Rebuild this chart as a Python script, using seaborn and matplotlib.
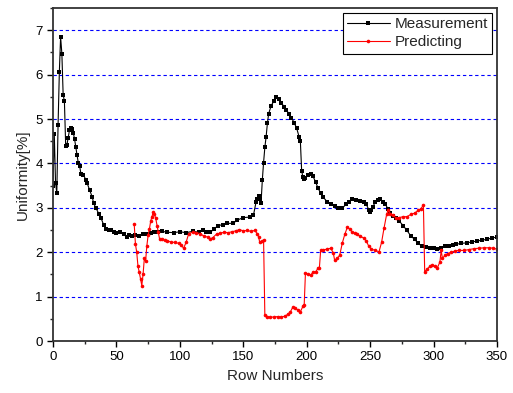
import numpy as np
import pandas as pd
import matplotlib
matplotlib.use('Agg')
import matplotlib.pyplot as plt
import seaborn as sns
from matplotlib.ticker import MultipleLocator

# measured uniformity per row
meas_x = [0, 1, 2, 3, 4, 5, 6, 7, 8, 9,
          10, 11, 12, 13, 14, 15, 16, 17, 18, 19,
          20, 21, 22, 24, 26, 27, 29, 31, 32, 34,
          36, 38, 40, 42, 44, 46, 48, 50, 53, 56,
          58, 60, 62, 65, 68, 71, 74, 77, 80, 83,
          86, 90, 95, 100, 105, 110, 115, 118, 121, 124,
          127, 130, 134, 137, 142, 145, 150, 155, 158, 160,
          161, 162, 163, 164, 165, 166, 167, 168, 169, 170,
          172, 174, 176, 178, 180, 182, 184, 186, 188, 190,
          192, 194, 195, 196, 197, 198, 199, 201, 203, 205,
          207, 209, 211, 213, 216, 219, 222, 225, 228, 231,
          233, 236, 239, 242, 245, 247, 249, 250, 251, 252,
          254, 256, 258, 260, 262, 264, 266, 268, 270, 273,
          276, 279, 282, 285, 288, 291, 294, 297, 300, 303,
          306, 309, 312, 315, 318, 322, 326, 330, 334, 338,
          342, 346, 350]
meas_y = [3.50, 4.67, 3.57, 3.33, 4.87, 6.05, 6.85, 6.47, 5.55, 5.40,
          4.40, 4.42, 4.58, 4.75, 4.79, 4.78, 4.69, 4.55, 4.36, 4.18,
          4.00, 3.94, 3.77, 3.75, 3.62, 3.55, 3.39, 3.24, 3.10, 2.99,
          2.87, 2.76, 2.61, 2.53, 2.50, 2.49, 2.46, 2.44, 2.45, 2.40,
          2.34, 2.38, 2.36, 2.38, 2.36, 2.40, 2.42, 2.44, 2.46, 2.45,
          2.47, 2.45, 2.44, 2.46, 2.44, 2.47, 2.45, 2.49, 2.46, 2.45,
          2.52, 2.60, 2.62, 2.65, 2.65, 2.72, 2.78, 2.79, 2.83, 3.12,
          3.20, 3.27, 3.20, 3.10, 3.62, 4.02, 4.36, 4.60, 4.90, 5.12,
          5.30, 5.40, 5.50, 5.45, 5.37, 5.28, 5.20, 5.12, 5.03, 4.92,
          4.80, 4.60, 4.50, 3.84, 3.69, 3.64, 3.68, 3.75, 3.76, 3.71,
          3.58, 3.44, 3.33, 3.24, 3.14, 3.08, 3.03, 3.00, 2.99, 3.08,
          3.14, 3.19, 3.18, 3.16, 3.12, 3.08, 2.95, 2.90, 2.94, 3.01,
          3.13, 3.18, 3.19, 3.14, 3.08, 2.98, 2.88, 2.82, 2.77, 2.70,
          2.60, 2.49, 2.37, 2.29, 2.20, 2.13, 2.11, 2.10, 2.09, 2.08,
          2.10, 2.13, 2.15, 2.17, 2.18, 2.20, 2.21, 2.23, 2.25, 2.27,
          2.29, 2.32, 2.34]

# predicted uniformity per row
pred_x = [64, 65, 66, 67, 68, 69, 70, 71, 72, 73,
          74, 75, 76, 77, 78, 79, 80, 81, 82, 83,
          84, 86, 88, 90, 93, 96, 99, 101, 103, 105,
          107, 110, 113, 116, 119, 122, 124, 126, 129, 132,
          135, 138, 141, 144, 147, 150, 153, 156, 159, 161,
          162, 163, 165, 166, 167, 169, 171, 174, 177, 180,
          183, 185, 187, 189, 191, 193, 195, 197, 198, 199,
          201, 203, 205, 207, 209, 210, 211, 213, 216, 219,
          221, 222, 224, 226, 228, 230, 232, 234, 236, 238,
          240, 242, 245, 247, 249, 251, 254, 257, 259, 261,
          263, 264, 266, 268, 270, 273, 276, 279, 282, 285,
          288, 290, 292, 293, 295, 297, 299, 301, 303, 305,
          306, 307, 309, 311, 314, 317, 320, 324, 328, 332,
          336, 340, 344, 347, 350]
pred_y = [2.64, 2.18, 2.00, 1.68, 1.55, 1.40, 1.25, 1.50, 1.86, 1.80,
          2.15, 2.38, 2.52, 2.70, 2.80, 2.90, 2.86, 2.76, 2.60, 2.45,
          2.30, 2.30, 2.27, 2.26, 2.23, 2.22, 2.20, 2.16, 2.09, 2.23,
          2.42, 2.45, 2.44, 2.42, 2.36, 2.34, 2.30, 2.33, 2.41, 2.43,
          2.45, 2.44, 2.46, 2.48, 2.51, 2.48, 2.49, 2.47, 2.49, 2.42,
          2.35, 2.22, 2.25, 2.27, 0.58, 0.55, 0.54, 0.54, 0.55, 0.54,
          0.56, 0.60, 0.65, 0.76, 0.74, 0.70, 0.66, 0.78, 0.80, 1.53,
          1.50, 1.48, 1.55, 1.56, 1.64, 1.65, 2.04, 2.05, 2.07, 2.09,
          1.98, 1.82, 1.86, 1.93, 2.20, 2.40, 2.56, 2.52, 2.45, 2.43,
          2.40, 2.36, 2.32, 2.25, 2.13, 2.07, 2.04, 2.01, 2.22, 2.55,
          2.85, 2.94, 2.86, 2.84, 2.78, 2.78, 2.80, 2.80, 2.85, 2.88,
          2.94, 2.98, 3.06, 1.56, 1.62, 1.68, 1.71, 1.68, 1.65, 1.78,
          2.04, 1.86, 1.93, 1.97, 2.00, 2.03, 2.04, 2.04, 2.06, 2.08,
          2.09, 2.10, 2.10, 2.09, 2.07]

sns.set_style("ticks")
plt.rcParams['font.family'] = ['Liberation Sans', 'DejaVu Sans']

fig = plt.figure(figsize=(5.13, 3.93), dpi=100)
ax = fig.add_axes([0.1033, 0.1323, 0.8655, 0.8473])

ax.grid(axis='y', color='blue', linestyle=(0, (3, 2.5)), linewidth=0.8)

sns.lineplot(x=meas_x, y=meas_y, ax=ax, color='black', linewidth=0.8,
             marker='s', markersize=2.6, markeredgewidth=0, estimator=None,
             label='Measurement')
sns.lineplot(x=pred_x, y=pred_y, ax=ax, color='red', linewidth=0.8,
             marker='o', markersize=2.6, markeredgewidth=0, estimator=None,
             label='Predicting')

ax.set_xlim(0, 350)
ax.set_ylim(0, 7.5)
ax.xaxis.set_major_locator(MultipleLocator(50))
ax.xaxis.set_minor_locator(MultipleLocator(25))
ax.yaxis.set_major_locator(MultipleLocator(1))
ax.yaxis.set_minor_locator(MultipleLocator(0.5))
ax.tick_params(which='major', direction='out', length=4, width=1, labelsize=9.5, colors='black')
ax.tick_params(which='minor', direction='out', length=2.5, width=1)
for s in ax.spines.values():
    s.set_visible(True)
    s.set_color('#333333')
    s.set_linewidth(1.3)

ax.set_xlabel('Row Numbers', fontsize=11)
ax.set_ylabel('Uniformity[%]', fontsize=11)

leg = ax.legend(loc='upper right', fontsize=11, frameon=True, fancybox=False,
                edgecolor='black', framealpha=1, borderpad=0.3, labelspacing=0.25,
                handlelength=2.8, handletextpad=0.3, borderaxespad=0.3)
leg.get_frame().set_linewidth(0.8)

fig.savefig('out.png', dpi=100)
